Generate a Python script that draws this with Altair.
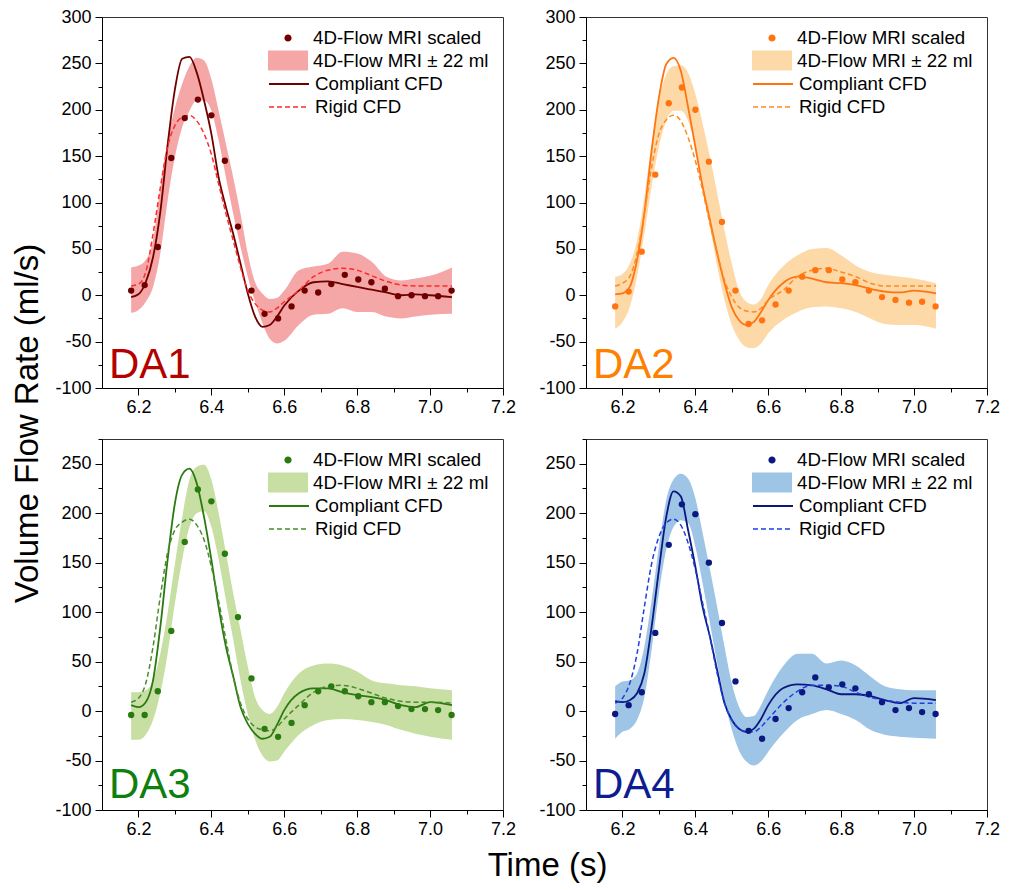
import altair as alt
import pandas as pd

FONT = "Liberation Sans"

# ---------------- data ----------------
T_CURVE = [6.18, 6.20, 6.22, 6.24, 6.26, 6.28, 6.30, 6.32, 6.34, 6.36, 6.38, 6.40, 6.42,
           6.44, 6.46, 6.48, 6.50, 6.52, 6.54, 6.56, 6.58, 6.60, 6.64, 6.68, 6.72, 6.76,
           6.80, 6.84, 6.88, 6.92, 6.96, 7.00, 7.06]
T_MRI = [6.18, 6.217, 6.253, 6.29, 6.327, 6.363, 6.40, 6.437, 6.473, 6.51, 6.546, 6.583,
         6.62, 6.656, 6.693, 6.729, 6.766, 6.803, 6.839, 6.876, 6.912, 6.949, 6.986, 7.022, 7.059]

DA1_MRI = [5, 11, 52, 148, 191, 211, 194, 145, 74, 5, -20, -25, -12, 5, 3, 12, 22, 17, 14, 7, -1, 0, -1, -1, 5]
DA1_COMPLIANT = [-2, 1, 14, 41, 90, 162, 222, 255, 257, 240, 210, 174, 127, 95, 66, 34, 2, -23, -34, -32,
                 -23, -11, 5, 14, 15, 12, 9, 6, 3, 0, 1, 0, -2]
DA1_RIGID = [10, 12, 25, 66, 116, 160, 183, 192, 194, 188, 174, 152, 120, 88, 59, 30, 5, -9, -16, -18,
             -14, -7, 5, 20, 27, 29, 27, 21, 15, 11, 10, 10, 10]
DA1_UPPER = [30, 32, 38, 59, 116, 167, 202, 228, 247, 256, 253, 233, 199, 163, 127, 88, 45, 14, 2, -4,
             -3, 5, 27, 31, 34, 47, 45, 36, 20, 16, 18, 21, 30]
DA1_LOWER = [-19, -16, -7, 9, 45, 102, 149, 181, 199, 210, 210, 199, 167, 127, 88, 52, 20, -7, -30, -47,
             -52, -49, -32, -21, -20, -14, -18, -18, -23, -25, -23, -21, -20]

DA2_MRI = [-12, 4, 47, 130, 207, 224, 200, 144, 79, 5, -31, -27, -10, 5, 20, 27, 27, 17, 14, 5, -2, -5, -8, -7, -12]
DA2_COMPLIANT = [1, 2, 9, 38, 88, 156, 213, 249, 256, 242, 203, 160, 117, 81, 45, 13, -13, -27, -32, -29,
                 -18, -5, 13, 20, 18, 14, 13, 11, 7, 4, 3, 5, 2]
DA2_RIGID = [10, 13, 20, 45, 88, 138, 174, 189, 194, 188, 170, 145, 113, 77, 45, 16, -2, -13, -17, -18,
             -14, -5, 5, 20, 27, 29, 25, 20, 13, 10, 10, 10, 10]
DA2_UPPER = [20, 23, 34, 59, 106, 163, 210, 238, 247, 248, 240, 217, 185, 149, 110, 70, 34, 5, -7, -10,
             -4, 11, 31, 43, 50, 51, 43, 32, 25, 22, 20, 18, 13]
DA2_LOWER = [-36, -29, -13, 20, 66, 117, 160, 188, 199, 199, 188, 160, 117, 74, 31, -5, -32, -48, -56, -57,
             -52, -41, -27, -18, -13, -12, -14, -18, -25, -31, -32, -32, -36]

DA3_MRI = [-4, -4, 20, 81, 171, 224, 212, 159, 95, 33, -18, -26, -12, 6, 20, 25, 20, 15, 9, 9, 5, 2, 2, 1, -4]
DA3_COMPLIANT = [6, 4, 9, 31, 85, 153, 210, 239, 245, 230, 196, 153, 105, 65, 35, 4, -13, -23, -28, -26,
                 -14, 1, 18, 23, 23, 19, 16, 14, 11, 6, 4, 9, 6]
DA3_RIGID = [9, 13, 28, 65, 116, 160, 183, 191, 194, 188, 173, 146, 111, 72, 35, 8, -8, -16, -19, -20,
             -16, -8, 6, 19, 25, 26, 23, 18, 13, 10, 9, 9, 8]
DA3_UPPER = [19, 19, 21, 31, 58, 99, 149, 196, 234, 247, 249, 234, 200, 160, 119, 82, 45, 14, 1, -3,
             4, 18, 38, 46, 48, 46, 40, 31, 28, 26, 25, 23, 21]
DA3_LOWER = [-29, -29, -24, -9, 18, 58, 109, 153, 186, 200, 202, 186, 153, 112, 72, 31, -3, -29, -45, -51,
             -50, -41, -24, -14, -9, -8, -9, -11, -14, -19, -23, -26, -29]

DA4_MRI = [-3, 6, 19, 79, 168, 209, 199, 150, 89, 30, -20, -28, -8, 3, 19, 34, 24, 27, 23, 17, 9, 1, 3, -1, -3]
DA4_COMPLIANT = [10, 9, 11, 18, 38, 85, 143, 196, 222, 217, 183, 146, 105, 75, 41, 8, -9, -18, -21, -18,
                 -8, 6, 23, 27, 26, 22, 17, 17, 15, 11, 8, 13, 11]
DA4_RIGID = [8, 13, 28, 58, 105, 149, 176, 190, 194, 188, 170, 143, 109, 75, 38, 8, -9, -18, -21, -21,
             -16, -8, 8, 20, 26, 26, 25, 19, 14, 11, 9, 8, 8]
DA4_UPPER = [25, 30, 31, 38, 65, 112, 166, 213, 234, 240, 235, 215, 180, 143, 105, 65, 28, 4, -6, -5,
             6, 21, 45, 58, 58, 48, 51, 46, 35, 25, 22, 21, 21]
DA4_LOWER = [-28, -21, -18, -9, 14, 62, 119, 163, 186, 193, 190, 166, 129, 89, 48, 11, -19, -40, -51, -55,
             -51, -41, -23, -9, -3, 1, -3, -9, -19, -24, -26, -27, -28]

LEG_PTS = "4D-Flow MRI scaled"
LEG_BAND = "4D-Flow MRI \u00b1 22 ml"
LEG_COMP = "Compliant CFD"
LEG_RIGID = "Rigid CFD"

X_TICKS = [6.2, 6.3, 6.4, 6.5, 6.6, 6.7, 6.8, 6.9, 7.0, 7.1, 7.2]
Y_TICKS_TOP = list(range(-100, 301, 25))
Y_TICKS_BOTTOM = list(range(-100, 276, 25))

# colours: (points/compliant, rigid, band, label)
COL_DA1 = ("#700000", "#ff2a2a", "#f5a6a6", "#b40000")
COL_DA2 = ("#ff7411", "#ff8a1e", "#fdd9a8", "#ff7f00")
COL_DA3 = ("#2a7a10", "#4b8c2c", "#c7dfa3", "#0f800f")
COL_DA4 = ("#0a1880", "#1e40e0", "#9ec4e6", "#0d1d8f")

CIRCLE_PATH = "M-0.18,0A0.18,0.18 0 1,0 0.18,0A0.18,0.18 0 1,0 -0.18,0Z"
RECT_PATH = "M-1,-0.5H1V0.5H-1Z"

PANEL_W = 401
PANEL_H = 371


def leg(y, stype, sw=0.0, dash=None):
    kw = dict(orient="none", legendX=166, legendY=y, title=None, symbolType=stype,
              symbolSize=1600, symbolStrokeWidth=sw, labelFontSize=18.7, labelFont=FONT,
              labelColor="black", labelOffset=5, labelLimit=400, padding=0)
    if dash:
        kw["symbolDash"] = dash
    return alt.Legend(**kw)


def panel(label, pts, comp, rigid, upper, lower, cols, ydom, yticks, ytitle, xtitle, label_y):
    dark, rigid_col, band_col, label_col = cols
    cdf = pd.DataFrame({"t": T_CURVE, "comp": comp, "rigid": rigid, "upper": upper, "lower": lower,
                        "s_band": LEG_BAND, "s_comp": LEG_COMP, "s_rigid": LEG_RIGID})
    pdf = pd.DataFrame({"t": T_MRI, "v": pts, "s_pts": LEG_PTS})
    ldf = pd.DataFrame({"t": [6.119], "v": [label_y], "txt": [label]})

    xs = alt.Scale(domain=[6.1, 7.2], nice=False, zero=False)
    ys = alt.Scale(domain=ydom, nice=False, zero=False)

    xkw = dict(values=X_TICKS, grid=False, labelFlush=False, labelOverlap=False,
               labelExpr="abs(round(datum.value*10)) % 2 === 0 ? format(datum.value, '.1f') : ''",
               tickSize={"condition": {"test": "abs(round(datum.value*10)) % 2 === 0", "value": 7}, "value": 4},
               labelFontSize=18, labelFont=FONT, labelColor="black", labelPadding=3,
               tickColor="black", domainColor="black")
    if xtitle:
        xkw.update(title="Time (s)", titleFontSize=33, titleFont=FONT, titleFontWeight="normal",
                   titleColor="black", titleX=445, titleY=65, titleAlign="center",
                   titleBaseline="alphabetic")
    else:
        xkw["title"] = None
    ykw = dict(values=yticks, grid=False, labelOverlap=False, labelFlush=False,
               labelExpr="datum.value % 50 === 0 ? '' + datum.value : ''",
               tickSize={"condition": {"test": "datum.value % 50 === 0", "value": 7}, "value": 4},
               labelFontSize=18, labelFont=FONT, labelColor="black", labelPadding=4,
               tickColor="black", domainColor="black")
    if ytitle:
        ykw.update(title="Volume Flow Rate (ml/s)", titleFontSize=33, titleFont=FONT,
                   titleFontWeight="normal", titleColor="black", titleX=-65, titleY=406,
                   titleAngle=270, titleAlign="center", titleBaseline="alphabetic")
    else:
        ykw["title"] = None
    xa = alt.Axis(**xkw)
    ya = alt.Axis(**ykw)

    base = alt.Chart(cdf)
    band = base.mark_area(interpolate="monotone", opacity=1).encode(
        x=alt.X("t:Q", scale=xs, axis=xa),
        y=alt.Y("upper:Q", scale=ys, axis=ya),
        y2="lower:Q",
        color=alt.Color("s_band:N", scale=alt.Scale(domain=[LEG_BAND], range=[band_col]),
                        legend=leg(23.5, RECT_PATH)),
    )
    compl = base.mark_line(interpolate="monotone", strokeWidth=1.8).encode(
        x=alt.X("t:Q", scale=xs, axis=xa),
        y=alt.Y("comp:Q", scale=ys, axis=ya),
        color=alt.Color("s_comp:N", scale=alt.Scale(domain=[LEG_COMP], range=[dark]),
                        legend=leg(46, "stroke", 2)),
    )
    rig = base.mark_line(interpolate="monotone", strokeWidth=1.5, strokeDash=[5, 3]).encode(
        x=alt.X("t:Q", scale=xs, axis=xa),
        y=alt.Y("rigid:Q", scale=ys, axis=ya),
        color=alt.Color("s_rigid:N", scale=alt.Scale(domain=[LEG_RIGID], range=[rigid_col]),
                        legend=leg(69, "stroke", 1.5, [5, 3])),
    )
    dots = alt.Chart(pdf).mark_circle(size=40, opacity=1).encode(
        x=alt.X("t:Q", scale=xs, axis=xa),
        y=alt.Y("v:Q", scale=ys, axis=ya),
        color=alt.Color("s_pts:N", scale=alt.Scale(domain=[LEG_PTS], range=[dark]),
                        legend=leg(1, CIRCLE_PATH)),
    )
    txt = alt.Chart(ldf).mark_text(fontSize=42, font=FONT, align="left", baseline="alphabetic",
                                   color=label_col).encode(
        x=alt.X("t:Q", scale=xs, axis=xa),
        y=alt.Y("v:Q", scale=ys, axis=ya),
        text="txt:N",
    )
    return alt.layer(band, compl, rig, dots, txt).resolve_scale(color="independent").properties(
        width=PANEL_W, height=PANEL_H)


p1 = panel("DA1", DA1_MRI, DA1_COMPLIANT, DA1_RIGID, DA1_UPPER, DA1_LOWER, COL_DA1,
           [-100, 300], Y_TICKS_TOP, True, False, -89)
p2 = panel("DA2", DA2_MRI, DA2_COMPLIANT, DA2_RIGID, DA2_UPPER, DA2_LOWER, COL_DA2,
           [-100, 300], Y_TICKS_TOP, False, False, -89)
p3 = panel("DA3", DA3_MRI, DA3_COMPLIANT, DA3_RIGID, DA3_UPPER, DA3_LOWER, COL_DA3,
           [-100, 275], Y_TICKS_BOTTOM, False, True, -88)
p4 = panel("DA4", DA4_MRI, DA4_COMPLIANT, DA4_RIGID, DA4_UPPER, DA4_LOWER, COL_DA4,
           [-100, 275], Y_TICKS_BOTTOM, False, False, -88)

chart = alt.concat(
    p1, p2, p3, p4, columns=2, spacing={"row": 51, "column": 83}, bounds="flush"
).resolve_scale(
    color="independent"
).properties(
    padding={"left": 2, "top": -1, "right": 0, "bottom": 0}, background="white"
).configure_view(stroke="#333333", strokeWidth=1)

chart.save("out.html", embed_options={"renderer": "svg", "actions": False})
